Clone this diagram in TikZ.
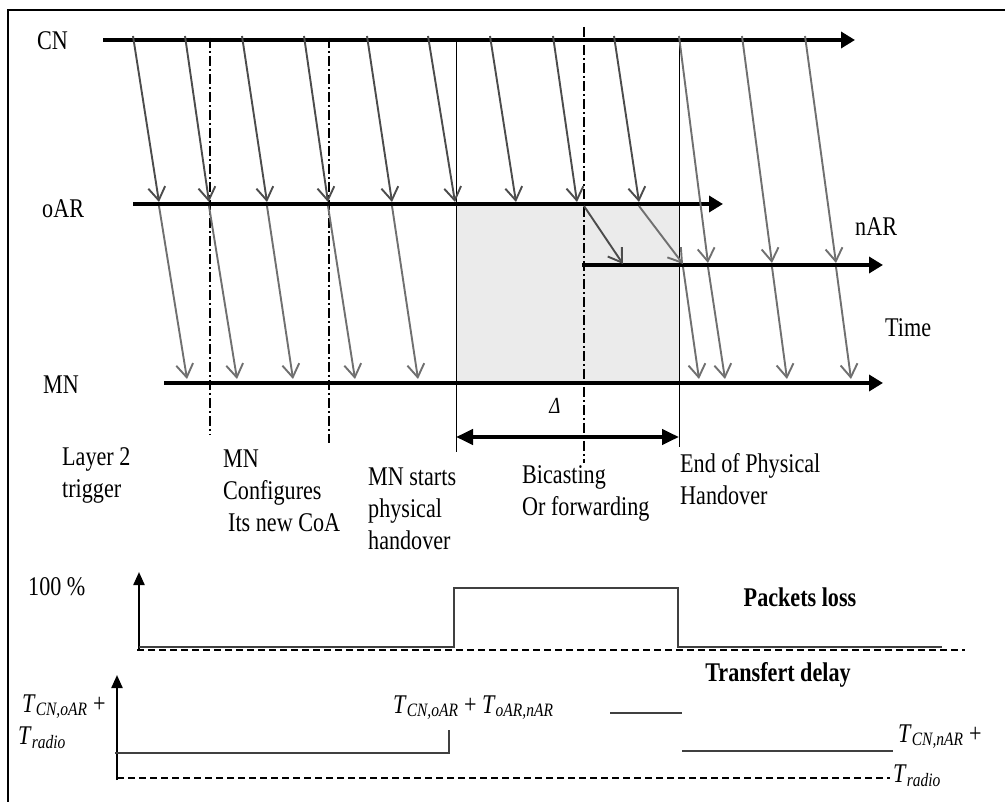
\documentclass[tikz,border=0pt]{standalone}
\usepackage{fontspec}
\setmainfont{Liberation Serif}[FakeStretch=0.82]
\usetikzlibrary{arrows.meta}
\newcommand{\Tsub}[1]{\textit{T}\textsubscript{\textit{#1}}}

\begin{document}
\begin{tikzpicture}[x=1pt, y=-1pt, font=\fontsize{27}{32}\selectfont,
    timeline/.style={line width=4pt, -{Triangle[length=14pt,width=16pt]}},
    msgdark/.style={line width=1.9pt, black!70, -{Straight Barb[length=13pt,width=17pt]}},
    msglight/.style={line width=1.9pt, black!56, -{Straight Barb[length=13pt,width=17pt]}},
    eventline/.style={line width=2pt, dash pattern=on 10pt off 3pt on 2pt off 3pt},
    phaseline/.style={line width=1pt},
    graphaxis/.style={line width=2.2pt, -{Triangle[length=13pt,width=11pt]}},
    zeroline/.style={line width=2pt, dash pattern=on 7pt off 4pt},
    curve/.style={line width=1.5pt, black!75},
    lbl/.style={inner sep=0pt, align=left}]

    \useasboundingbox (0,0) rectangle (1005,802);
    \draw[line width=2pt] (8,802) -- (8,10) -- (1005,10);

    % zone du handover physique
    \fill[black!8] (456,204) rectangle (679,383);

    \node[lbl, anchor=west] (cn) at (37,41) {CN};
    \node[lbl, anchor=west] (oar) at (42,209) {oAR};
    \node[lbl, anchor=west] (nar) at (855,227) {nAR};
    \node[lbl, anchor=west] (mn) at (43,385) {MN};
    \node[lbl, anchor=west] (time) at (885,328) {Time};

    \draw[timeline] (103,40) -- (855,40);
    \draw[timeline] (133,204) -- (723,204);
    \draw[timeline] (582,265) -- (883,265);
    \draw[timeline] (164,383) -- (883,383);

    \draw[eventline] (210,38) -- (210,435);
    \draw[eventline] (329,38) -- (329,443);
    \draw[eventline] (584,27) -- (584,463);
    \draw[phaseline] (456,40) -- (456,452);
    \draw[phaseline] (679,36) -- (679,447);

    % paquets CN -> oAR -> MN
    \foreach \s/\e in {133/159, 185/209, 242/267, 304/328, 367/392, 428/455, 490/516, 553/577, 614/639}
        \draw[msgdark] (\s,36) -- (\e,202);
    \foreach \s/\e in {159/187, 209/237, 267/293, 328/355, 392/418}
        \draw[msglight] (\s,206) -- (\e,379);
    \draw[msgdark] (584,206) -- (623,264);
    \draw[msglight] (639,206) -- (683,264);
    % paquets CN -> nAR -> MN
    \foreach \s/\e in {679/708, 742/772, 805/836}
        \draw[msglight] (\s,36) -- (\e,263);
    \foreach \s/\e in {683/699, 708/725, 772/787, 836/851}
        \draw[msglight] (\s,267) -- (\e,379);

    \draw[line width=4pt, {Triangle[length=17pt,width=15pt]}-{Triangle[length=17pt,width=15pt]}] (456,437) -- (679,437);
    \node[lbl, font=\fontsize{23}{26}\selectfont] (delta) at (555,406) {\textit{Δ}};

    \node[lbl, anchor=north west] (trig) at (62,447) {Layer 2\\trigger};
    \node[lbl, anchor=north west] (coa) at (223,450) {MN\\Configures\\\hspace{5pt}Its new CoA};
    \node[lbl, anchor=north west] (start) at (368,468) {MN starts\\physical\\handover};
    \node[lbl, anchor=north west] (bicast) at (522,465) {Bicasting\\Or forwarding};
    \node[lbl, anchor=north west] (end) at (680,453) {End of Physical\\Handover};

    % perte de paquets
    \draw[graphaxis] (139,650) -- (139,572);
    \draw[zeroline] (137,650) -- (965,650);
    \draw[curve] (139,647) -- (454,647) -- (454,588) -- (678,588) -- (678,647) -- (942,647);
    \node[lbl, anchor=west] (full) at (28,587) {100 \%};
    \node[lbl, font=\fontsize{27}{32}\bfseries] (loss) at (800,597) {Packets loss};

    % delai de transfert
    \draw[graphaxis] (117,780) -- (117,675);
    \draw[zeroline] (117,778) -- (890,778);
    \draw[curve] (115,753) -- (449,753) -- (449,730);
    \draw[curve] (610,713) -- (682,713);
    \draw[curve] (682,751) -- (893,751);
    \node[lbl, font=\fontsize{27}{32}\bfseries] (delay) at (778,675) {Transfert delay};
    \node[lbl, anchor=base west] (told1) at (22,712) {\Tsub{CN,oAR} +};
    \node[lbl, anchor=base west] (told2) at (18,744) {\Tsub{radio}};
    \node[lbl, anchor=base west] (tfwd) at (393,713) {\Tsub{CN,oAR} + \Tsub{oAR,nAR}};
    \node[lbl, anchor=base west] (tnew1) at (898,742) {\Tsub{CN,nAR} +};
    \node[lbl, anchor=base west] (tnew2) at (893,782) {\Tsub{radio}};
\end{tikzpicture}
\end{document}
